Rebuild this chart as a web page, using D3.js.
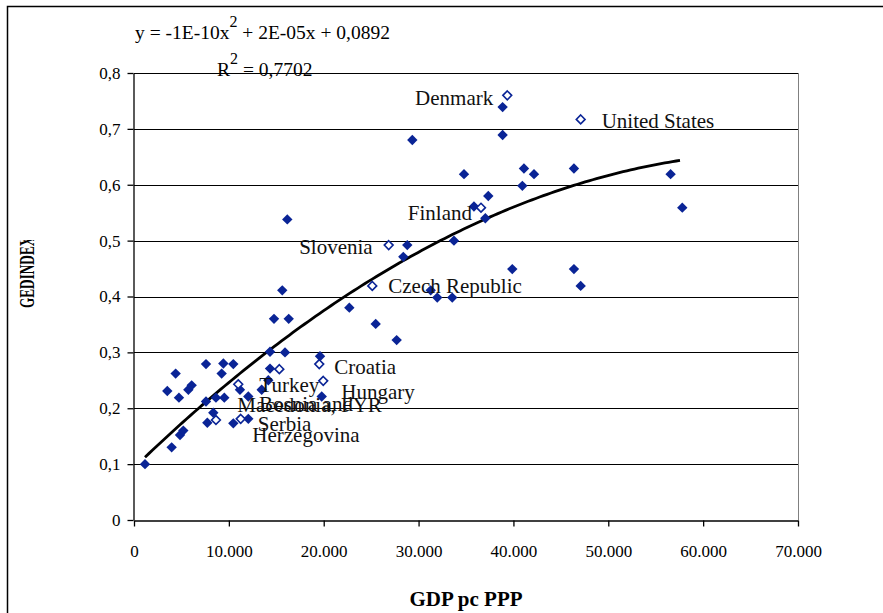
<!DOCTYPE html>
<html>
<head>
<meta charset="utf-8">
<script src="https://cdn.jsdelivr.net/npm/d3@7"></script>
<style>
  body { margin: 0; background: #fff; }
  svg text { font-family: "Liberation Serif", "Times New Roman", serif !important; }
</style>
</head>
<body>
<div class="canvas"></div>
<script>
// all countries (filled diamonds)
const gdp = [1160, 3970, 4390, 3510, 4740, 5730, 6080, 4850, 5200, 7590,
  7590, 7730, 8360, 9420, 10470, 9240, 8640, 9520, 10470, 12050,
  11170, 12050, 13460, 14340, 15920, 14340, 14160, 19610, 19790, 16160,
  15630, 22700, 14760, 16310, 25480, 27690, 28810, 28390, 33730, 39880,
  46380, 47090, 31280, 31970, 33550, 38860, 38860, 29340, 34790, 41110,
  42170, 40940, 37350, 35840, 37040, 46380, 56570, 57800];
const gedindex = [0.100, 0.130, 0.262, 0.231, 0.219, 0.233, 0.241, 0.152, 0.160, 0.279,
  0.212, 0.174, 0.192, 0.280, 0.279, 0.262, 0.219, 0.219, 0.173, 0.181,
  0.233, 0.221, 0.233, 0.301, 0.300, 0.271, 0.250, 0.293, 0.221, 0.538,
  0.411, 0.380, 0.360, 0.360, 0.351, 0.322, 0.492, 0.471, 0.500, 0.449,
  0.449, 0.419, 0.411, 0.398, 0.398, 0.739, 0.689, 0.680, 0.619, 0.629,
  0.619, 0.598, 0.580, 0.561, 0.540, 0.629, 0.619, 0.559];

// labelled countries (open diamonds)
const names = ["Denmark", "United States", "Finland", "Slovenia", "Czech Republic",
  "Croatia", "Hungary", "Turkey", "Macedonia, FYR", "Serbia", "Bosnia and Herzegovina"];
const namedGdp = [39350, 47090, 36580, 26850, 25120, 19530, 19950, 15320, 10990, 11250, 8640];
const namedIndex = [0.760, 0.717, 0.559, 0.492, 0.419, 0.279, 0.249, 0.270, 0.243, 0.181, 0.179];

// polynomial trend line (c, b, a)
const trendCoef = [0.0934, 1.646e-5, -1.199e-10];

const xTicks = [0, 10000, 20000, 30000, 40000, 50000, 60000, 70000];
const yTicks = [0, 0.1, 0.2, 0.3, 0.4, 0.5, 0.6, 0.7, 0.8];

// where each label sits relative to its point
const labelPos = {
  "Denmark": { anchor: "end", dx: -14, dy: 2 },
  "United States": { anchor: "start", dx: 21, dy: 1 },
  "Finland": { anchor: "end", dx: -9, dy: 5 },
  "Slovenia": { anchor: "end", dx: -16, dy: 2 },
  "Czech Republic": { anchor: "start", dx: 16, dy: 0 },
  "Croatia": { anchor: "start", dx: 15, dy: 3 },
  "Hungary": { anchor: "start", dx: 18, dy: 11 },
  "Turkey": { anchor: "start", dx: -20, dy: 16 },
  "Macedonia, FYR": { anchor: "start", dx: -1, dy: 20 },
  "Serbia": { anchor: "start", dx: 17, dy: 5 },
  "Bosnia and Herzegovina": { anchor: "middle", dx: 90, dy: -16, lines: ["Bosnia and", "Herzegovina"], lineGap: 31 }
};

const width = 883, height = 613;
const plot = { left: 134, right: 798, top: 73, bottom: 520 };
const blue = "#0a2496";
const serif = '"Liberation Serif", "Times New Roman", serif';

const svg = d3.select('.canvas')
  .append('svg')
  .attr('width', width)
  .attr('height', height);

svg.append('rect').attr('width', width).attr('height', height).attr('fill', '#fff');

// outer chart frame (right/bottom fall outside the picture)
svg.append('rect')
  .attr('x', 7.5).attr('y', 6.5)
  .attr('width', 900).attr('height', 700)
  .attr('fill', 'none').attr('stroke', '#000').attr('stroke-width', 1.5);

const x = d3.scaleLinear().domain([0, 70000]).range([plot.left, plot.right]);
const y = d3.scaleLinear().domain([0, 0.8]).range([plot.bottom, plot.top]);

const loc = d3.formatLocale({ decimal: ",", thousands: ".", grouping: [3], currency: ["", ""] });
const fmtX = loc.format(",");
const fmtY = d => d === 0 ? "0" : loc.format(".1f")(d);

// right border of plot area
svg.append('line')
  .attr('x1', plot.right + 0.5).attr('x2', plot.right + 0.5)
  .attr('y1', plot.top).attr('y2', plot.bottom)
  .attr('stroke', '#808080').attr('stroke-width', 1);

// gridlines
svg.append('g').selectAll('line')
  .data(yTicks.filter(d => d > 0))
  .enter().append('line')
  .attr('x1', plot.left).attr('x2', plot.right)
  .attr('y1', d => Math.round(y(d)) + 0.5).attr('y2', d => Math.round(y(d)) + 0.5)
  .attr('stroke', '#000').attr('stroke-width', 1);

// axes
const xAxis = d3.axisBottom(x).tickValues(xTicks).tickFormat(fmtX).tickSize(6).tickSizeOuter(0);
const yAxis = d3.axisLeft(y).tickValues(yTicks).tickFormat(fmtY).tickSize(6).tickSizeOuter(0);

const xAxisGroup = svg.append('g').attr('transform', `translate(0, ${plot.bottom + 0.5})`).call(xAxis);
const yAxisGroup = svg.append('g').attr('transform', `translate(${plot.left - 0.5}, 0)`).call(yAxis);

[xAxisGroup, yAxisGroup].forEach(g => {
  g.attr('font-family', serif).attr('font-size', 17);
  g.select('.domain').attr('stroke', '#000').attr('stroke-width', 1.3);
  g.selectAll('.tick line').attr('stroke', '#000').attr('stroke-width', 1.3);
  g.selectAll('.tick text')
    .style('font-family', serif)
    .style('font-size', '17px')
    .attr('fill', '#000');
});
xAxisGroup.selectAll('.tick text').attr('dy', '1.6em');
yAxisGroup.selectAll('.tick text').attr('x', -13);

// trend line
const xs = d3.range(d3.min(gdp), d3.max(gdp) + 1, 400);
const trend = d3.line()
  .x(d => x(d))
  .y(d => y(trendCoef[0] + trendCoef[1] * d + trendCoef[2] * d * d));
svg.append('path')
  .datum(xs)
  .attr('d', trend)
  .attr('fill', 'none')
  .attr('stroke', '#000')
  .attr('stroke-width', 2.8)
  .attr('stroke-linejoin', 'round');

// filled diamonds
const diamond = r => `M0,${-r}L${r},0L0,${r}L${-r},0Z`;
svg.append('g').selectAll('path')
  .data(gdp.map((g, i) => [g, gedindex[i]]))
  .enter().append('path')
  .attr('d', diamond(5.2))
  .attr('transform', d => `translate(${x(d[0])}, ${y(d[1])})`)
  .attr('fill', blue);

// open diamonds
const named = names.map((n, i) => ({ name: n, g: namedGdp[i], v: namedIndex[i] }));
svg.append('g').selectAll('path')
  .data(named)
  .enter().append('path')
  .attr('d', diamond(4.4))
  .attr('transform', d => `translate(${x(d.g)}, ${y(d.v)})`)
  .attr('fill', '#fff')
  .attr('stroke', blue)
  .attr('stroke-width', 1.6);

// country labels
const labels = svg.append('g')
  .style('font-family', serif)
  .style('font-size', '21px')
  .attr('fill', '#111');
named.forEach(d => {
  const p = labelPos[d.name];
  const lines = p.lines || [d.name];
  lines.forEach((t, k) => {
    labels.append('text')
      .attr('x', x(d.g) + p.dx)
      .attr('y', y(d.v) + p.dy + k * (p.lineGap || 0))
      .attr('dy', '0.35em')
      .attr('text-anchor', p.anchor)
      .text(t);
  });
});

// equation and R squared
const eq = svg.append('text')
  .attr('x', 135).attr('y', 39)
  .style('font-size', '19.5px').attr('fill', '#000');
eq.append('tspan').text('y = -1E-10x');
eq.append('tspan').attr('dy', -12).style('font-size', '16px').text('2');
eq.append('tspan').attr('dy', 12).text(' + 2E-05x + 0,0892');

const r2 = svg.append('text')
  .attr('x', 217).attr('y', 76)
  .style('font-size', '19.5px').attr('fill', '#000');
r2.append('tspan').text('R');
r2.append('tspan').attr('dy', -12).style('font-size', '16px').text('2');
r2.append('tspan').attr('dy', 12).text(' = 0,7702');

// axis titles
svg.append('text')
  .attr('x', (plot.left + plot.right) / 2).attr('y', 606)
  .attr('text-anchor', 'middle')
  .style('font-size', '21px').attr('font-weight', 'bold')
  .text('GDP pc PPP');

// y title is squeezed and clipped at its top, as in the source chart
svg.append('clipPath').attr('id', 'ytitle-clip')
  .append('rect').attr('x', 0).attr('y', 240).attr('width', 60).attr('height', 200);

svg.append('g').attr('clip-path', 'url(#ytitle-clip)')
  .append('text')
  .attr('transform', 'translate(34, 308) rotate(-90) scale(0.63, 1)')
  .style('font-size', '21px').attr('font-weight', 'bold')
  .text('GEDINDEX');
</script>
</body>
</html>
